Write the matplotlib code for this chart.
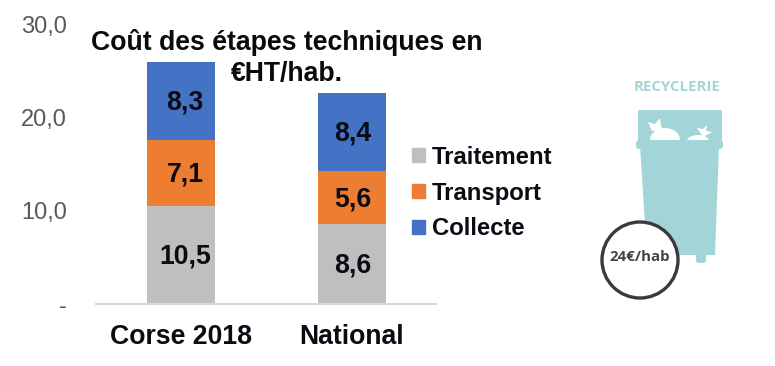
"""Coût des étapes techniques — barres empilées + pictogramme poubelle."""
import matplotlib
matplotlib.use("Agg")
import matplotlib.pyplot as plt
import matplotlib.patches as mpatches

plt.rcParams["font.family"] = ["Liberation Sans", "DejaVu Sans"]

categories = ["Corse 2018", "National"]
traitement = [10.5, 8.6]
transport = [7.1, 5.6]
collecte = [8.3, 8.4]
yticks = [0, 10, 20, 30]
ytick_labels = ["-", "10,0", "20,0", "30,0"]

C_GREY = "#BFBFBF"
C_ORANGE = "#ED7D31"
C_BLUE = "#4472C4"
C_INK = "#0B0B14"
C_TICK = "#595959"
C_BIN = "#A3D5D8"
W, H = 775, 366

fig = plt.figure(figsize=(W / 100, H / 100), dpi=100, facecolor="white")

# Graphique
ax = fig.add_axes([96 / W, 1 - 304 / H, 340 / W, 280 / H])
bottom = [0, 0]
for vals, col in [(traitement, C_GREY), (transport, C_ORANGE), (collecte, C_BLUE)]:
    ax.bar(range(2), vals, 0.4, bottom=bottom, color=col, linewidth=0)
    for i, v in enumerate(vals):
        # étiquettes un peu décalées à droite sur la première barre, comme l'original
        ax.annotate(f"{v:.1f}".replace(".", ","), (i, bottom[i] + v / 2),
                    xytext=(2.8 if i == 0 else 0.6, -1.2), textcoords="offset points",
                    ha="center", va="center", fontsize=19.2, fontweight="bold", color=C_INK)
    bottom = [b + v for b, v in zip(bottom, vals)]

ax.set_xlim(-0.497, 1.491)
ax.set_ylim(0, 30)
for s in ["top", "right", "left"]:
    ax.spines[s].set_visible(False)
ax.spines["bottom"].set_color("#D9D9D9")
ax.spines["bottom"].set_linewidth(1.5)
ax.set_xticks(range(2))
ax.set_xticklabels(categories, fontsize=19.2, fontweight="bold", color=C_INK)
ax.set_yticks(yticks)
ax.set_yticklabels(ytick_labels, fontsize=17, color=C_TICK)
ax.tick_params(axis="x", length=0, pad=14.5)
ax.tick_params(axis="y", length=0, pad=20.7)

# Titre et légende
fig.text(287 / W, 1 - 58 / H, "Coût des étapes techniques en\n€HT/hab.",
         ha="center", va="center", fontsize=19.2, fontweight="bold",
         color="#0A0A0A", linespacing=1.24)
handles = [mpatches.Patch(color=c, label=l) for c, l in
           [(C_GREY, "Traitement"), (C_ORANGE, "Transport"), (C_BLUE, "Collecte")]]
fig.legend(handles=handles, loc="center left", bbox_to_anchor=(412 / W, 1 - 193 / H),
           frameon=False, handlelength=0.54, handleheight=0.54,
           handletextpad=0.29, labelspacing=0.54, borderpad=0, borderaxespad=0,
           labelcolor=C_INK, prop={"weight": "bold", "size": 17.2})

# Pictogramme en coordonnées pixel
pic = fig.add_axes([0, 0, 1, 1], facecolor="none")
pic.set_xlim(0, W)
pic.set_ylim(H, 0)
pic.axis("off")
pic.text(677, 87, "RECYCLERIE", ha="center", va="center", fontsize=10.8,
         fontweight="bold", color=C_BIN, family=["Open Sans", "DejaVu Sans"],
         stretch="condensed")
pic.add_patch(mpatches.FancyBboxPatch((638, 110), 84, 32, boxstyle="round,pad=0,rounding_size=2",
                                      color=C_BIN, lw=0))
pic.add_patch(mpatches.Ellipse((665, 140), 30, 24, color="white", lw=0))
pic.add_patch(mpatches.Ellipse((698, 141), 22, 12, color="white", lw=0))
pic.add_patch(mpatches.Polygon([(648, 122), (655, 124), (660, 118), (661, 125), (663, 130), (652, 131)],
                               closed=True, color="white", lw=0))
pic.add_patch(mpatches.Polygon([(697, 128), (703, 129), (707, 125), (706, 131), (712, 132), (703, 137)],
                               closed=True, color="white", lw=0))
pic.add_patch(mpatches.FancyBboxPatch((636, 140), 87, 9, boxstyle="round,pad=0,rounding_size=3.5",
                                      color=C_BIN, lw=0))
pic.add_patch(mpatches.Polygon([(640, 146), (719, 146), (715, 255), (647, 255)],
                               closed=True, color=C_BIN, lw=0))
pic.add_patch(mpatches.FancyBboxPatch((696, 250), 10, 13, boxstyle="round,pad=0,rounding_size=3",
                                      color=C_BIN, lw=0))
pic.add_patch(mpatches.Circle((640, 260), 38, facecolor="white", edgecolor="#3A3A3A", lw=2.4))
pic.text(640, 257, "24€/hab", ha="center", va="center", fontsize=10.8,
         fontweight="bold", color="#444444", family=["Open Sans", "DejaVu Sans"])

fig.savefig("out.png", dpi=100, facecolor="white")
